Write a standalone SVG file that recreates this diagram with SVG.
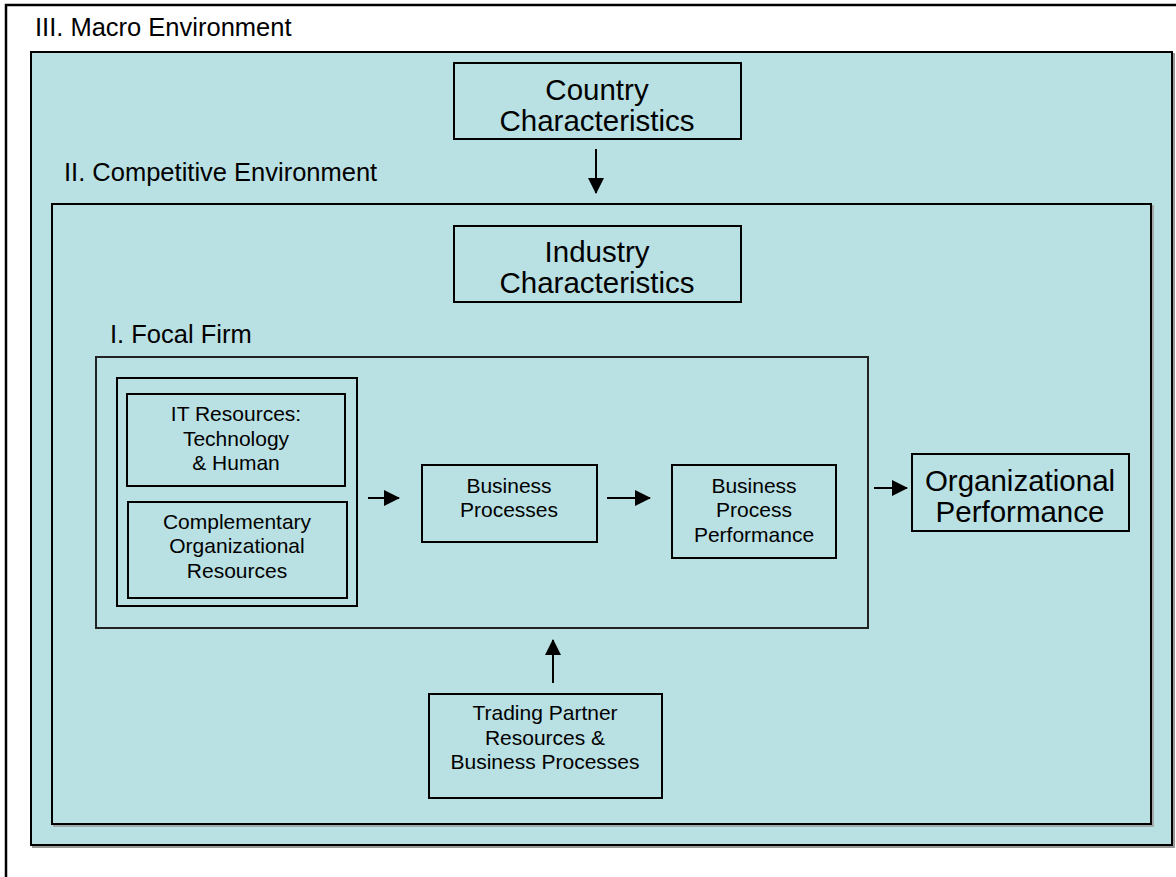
<svg xmlns="http://www.w3.org/2000/svg" width="1176" height="877" viewBox="0 0 1176 877">
<style>
  text { font-family: "Liberation Sans", Arial, sans-serif; fill: #000; }
  .lbl { font-size: 25.5px; }
  .big { font-size: 29.5px; text-anchor: middle; }
  .sm { font-size: 21px; text-anchor: middle; }
  .box { fill: none; stroke: #000; stroke-width: 2; }
  .env { fill: #B9E0E3; stroke: #000; stroke-width: 2; }
  .conn { stroke: #000; stroke-width: 2; fill: none; marker-end: url(#ah); }
</style>
<defs>
  <marker id="ah" viewBox="0 0 16 16" refX="15" refY="8" markerWidth="16" markerHeight="16" markerUnits="userSpaceOnUse" orient="auto">
    <path d="M0,0 L16,8 L0,16 Z" fill="#000"/>
  </marker>
</defs>
<rect x="0" y="0" width="1176" height="877" fill="#fff"/>
<g id="outer-frame">
  <rect x="6" y="5" width="1200" height="900" fill="none" stroke="#000" stroke-width="2.5"/>
  <text class="lbl" x="35" y="36">III. Macro Environment</text>
</g>
<g id="macro-environment">
  <rect x="33" y="54" width="1141" height="793" fill="none" stroke="#999" stroke-width="2"/>
  <rect class="env" x="31" y="52" width="1141" height="793"/>
  <text class="lbl" x="64" y="181">II. Competitive Environment</text>
</g>
<g id="competitive-environment">
  <rect x="54" y="206" width="1099" height="620" fill="none" stroke="#999" stroke-width="1.5"/>
  <rect class="env" x="52" y="204" width="1099" height="620" stroke-width="1.8"/>
  <text class="lbl" x="110" y="343">I. Focal Firm</text>
</g>
<g id="focal-firm">
  <rect x="96" y="357" width="772" height="271" fill="none" stroke="#222" stroke-width="2"/>
</g>
<g id="country-characteristics">
  <rect class="box" x="454" y="63" width="287" height="76"/>
  <text class="big" x="597" y="100">Country</text>
  <text class="big" x="597" y="131">Characteristics</text>
</g>
<g id="industry-characteristics">
  <rect class="box" x="454" y="226" width="287" height="76"/>
  <text class="big" x="597" y="262">Industry</text>
  <text class="big" x="597" y="293">Characteristics</text>
</g>
<g id="resources">
  <rect class="box" x="117" y="378" width="240" height="228"/>
</g>
<g id="it-resources">
  <rect class="box" x="127" y="394" width="218" height="92"/>
  <text class="sm" x="236" y="421">IT Resources:</text>
  <text class="sm" x="236" y="446">Technology</text>
  <text class="sm" x="236" y="470">&amp; Human</text>
</g>
<g id="complementary-resources">
  <rect class="box" x="128" y="502" width="219" height="96"/>
  <text class="sm" x="237" y="529">Complementary</text>
  <text class="sm" x="237" y="553">Organizational</text>
  <text class="sm" x="237" y="578">Resources</text>
</g>
<g id="business-processes">
  <rect class="box" x="422" y="465" width="175" height="77"/>
  <text class="sm" x="509" y="493">Business</text>
  <text class="sm" x="509" y="517">Processes</text>
</g>
<g id="business-process-performance">
  <rect class="box" x="672" y="465" width="164" height="93"/>
  <text class="sm" x="754" y="493">Business</text>
  <text class="sm" x="754" y="517">Process</text>
  <text class="sm" x="754" y="542">Performance</text>
</g>
<g id="organizational-performance">
  <rect class="box" x="912" y="454" width="217" height="77"/>
  <text class="big" x="1020" y="491">Organizational</text>
  <text class="big" x="1020" y="522">Performance</text>
</g>
<g id="trading-partner">
  <rect class="box" x="429" y="694" width="233" height="104"/>
  <text class="sm" x="545" y="720">Trading Partner</text>
  <text class="sm" x="545" y="745">Resources &amp;</text>
  <text class="sm" x="545" y="769">Business Processes</text>
</g>
<g id="connectors">
  <line class="conn" x1="596" y1="149" x2="596" y2="193"/>
  <line class="conn" x1="368" y1="498" x2="399" y2="498"/>
  <line class="conn" x1="607" y1="498" x2="650" y2="498"/>
  <line class="conn" x1="874" y1="488" x2="907" y2="488"/>
  <line class="conn" x1="553" y1="683" x2="553" y2="640"/>
</g>
</svg>
